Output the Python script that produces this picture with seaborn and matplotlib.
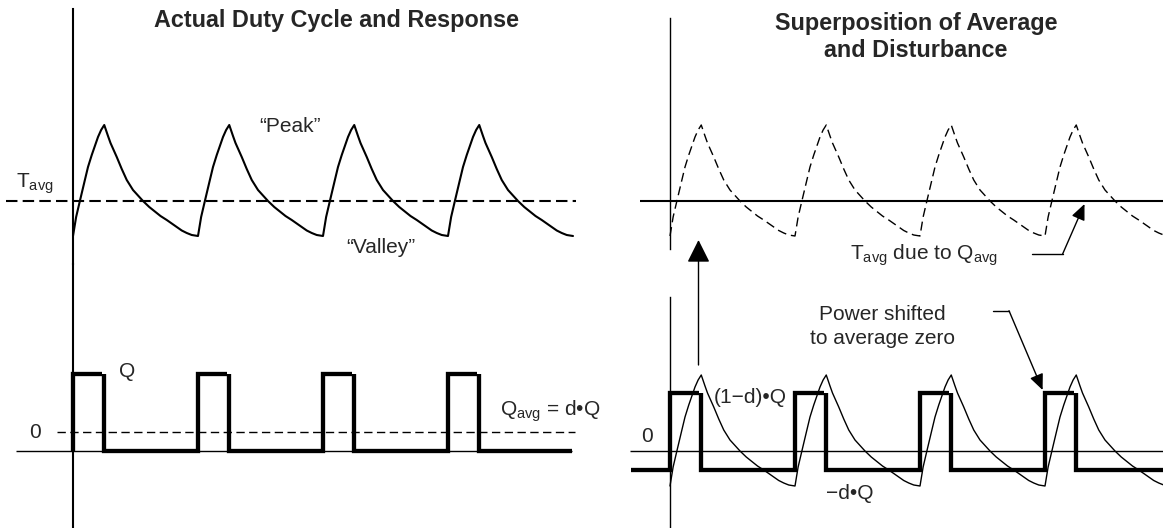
"""占空比与温度响应示意图"""
import pandas as pd
import matplotlib
matplotlib.use('Agg')
import matplotlib.pyplot as plt
import seaborn as sns

# ---- 数据（时间以周期为单位） ----
# 一个周期内的温度响应（相对 T_avg）
cycle_t = [0.0, 0.025, 0.055, 0.095, 0.12, 0.15, 0.20, 0.225, 0.25, 0.28, 0.30, 0.35, 0.39,
           0.43, 0.48, 0.56, 0.61, 0.66, 0.70, 0.75, 0.83, 0.87, 0.91, 0.95, 1.0]
cycle_temp = [-3.5, -1.6, 0.0, 2.1, 3.4, 4.6, 6.4, 7.1, 7.6, 6.5, 5.8, 4.4, 3.2,
              2.1, 1.1, 0.0, -0.6, -1.1, -1.5, -1.9, -2.6, -2.95, -3.2, -3.4, -3.5]
cycle_starts = [0, 1, 2, 3]      # 每个脉冲的上升沿
duty = 0.25                      # d
bar_end = 0.23                   # 顶边在下降沿前略微断开
q_full = 1.0                     # Q

sns.set_style('white')
plt.rcParams['font.family'] = ['Liberation Sans', 'DejaVu Sans']
plt.rcParams['mathtext.fontset'] = 'custom'
plt.rcParams['mathtext.rm'] = 'Liberation Sans'
plt.rcParams['mathtext.it'] = 'Liberation Sans:italic'
plt.rcParams['mathtext.bf'] = 'Liberation Sans:bold'
plt.rcParams['mathtext.default'] = 'regular'

FS = 15
K = 'black'


def response_df(starts):
    rows = []
    for s in starts:
        for t, v in zip(cycle_t, cycle_temp):
            rows.append({'t': s + t, 'temp': v})
    return pd.DataFrame(rows)


def pulse_df(rises, on, off, t_start, t_stop):
    # 方波分段：上升沿+顶边一段，下降沿+底边+下一个上升沿一段
    segs = []
    first = [(rises[0], off), (rises[0], on), (rises[0] + bar_end, on)]
    if t_start < rises[0]:
        first = [(t_start, off)] + first
    segs.append(first)
    for k, r in enumerate(rises):
        fall = r + duty
        if k + 1 < len(rises):
            nxt = rises[k + 1]
            segs.append([(fall, on), (fall, off), (nxt, off), (nxt, on), (nxt + bar_end, on)])
        else:
            segs.append([(fall, on), (fall, off), (t_stop, off)])
    rows = []
    for i, seg in enumerate(segs):
        for t, q in seg:
            rows.append({'t': t, 'q': q, 'seg': i})
    return pd.DataFrame(rows)


def clean(ax, xlim, ylim, bounds, lw):
    ax.set_xlim(*xlim)
    ax.set_ylim(*ylim)
    ax.set_xticks([])
    ax.set_yticks([])
    ax.set_xlabel('')
    ax.set_ylabel('')
    ax.patch.set_alpha(0)
    for sp in ax.spines.values():
        sp.set_visible(False)
    if bounds is not None:
        ax.spines['left'].set_visible(True)
        ax.spines['left'].set_position(('data', 0))
        ax.spines['left'].set_bounds(*bounds)
        ax.spines['left'].set_linewidth(lw)
        ax.spines['left'].set_color(K)


fig = plt.figure(figsize=(11.63, 5.28), dpi=100)
xl = 582 / 1163
ax_lt = fig.add_axes([0, 0.5, xl, 0.5])
ax_lb = fig.add_axes([0, 0, xl, 0.5])
ax_rt = fig.add_axes([xl, 0.5, 1 - xl, 0.5])
ax_rb = fig.add_axes([xl, 0, 1 - xl, 0.5])
ax_rb_t = ax_rb.twinx()

resp = response_df(cycle_starts)
pulse_left = pulse_df(cycle_starts, q_full, 0.0, 0.0, 3.99)
pulse_right = pulse_df(cycle_starts, (1 - duty) * q_full, -duty * q_full, -0.31, 4.0)

# ---- 左：实际占空比与响应 ----
sns.lineplot(data=resp, x='t', y='temp', sort=False, color=K, lw=1.5, ax=ax_lt, legend=False)
ax_lt.hlines(0, -0.536, 4.02, color=K, lw=1.5, linestyles=(0, (5.5, 2.5)))
clean(ax_lt, (-0.584, 4.072), (-6.3, 20.1), (-6.3, 19.2), 1.5)
ax_lt.text(-0.456, 1.3, r'T$_{avg}$', fontsize=FS, ha='left', va='baseline')
ax_lt.text(1.74, 7.5, '\u201cPeak\u201d', fontsize=FS, ha='center', va='center')
ax_lt.text(2.46, -4.65, '\u201cValley\u201d', fontsize=FS, ha='center', va='center')

ax_lb.hlines(0, -0.456, 3.99, color=K, lw=1.0)
ax_lb.hlines(duty * q_full, -0.13, 4.016, color=K, lw=1.0, linestyles=(0, (6, 3.2)))
sns.lineplot(data=pulse_left, x='t', y='q', units='seg', estimator=None, sort=False,
             color=K, lw=3.1, ax=ax_lb, legend=False,
             solid_capstyle='butt', solid_joinstyle='miter')
clean(ax_lb, (-0.584, 4.072), (-1.0, 2.4286), (-1.0, 2.43), 1.5)
ax_lb.text(0.43, 1.026, 'Q', fontsize=FS, ha='center', va='center')
ax_lb.text(-0.304, 0.234, '0', fontsize=FS, ha='center', va='center')
ax_lb.text(3.416, 0.51, 'Q$_{avg}$ = d\u2022Q', fontsize=FS, ha='left', va='center')

# ---- 右：平均值与扰动叠加 ----
sns.lineplot(data=resp, x='t', y='temp', sort=False, color=K, lw=1.0, ax=ax_rt, legend=False,
             linestyle=(0, (6.5, 3.5)))
ax_rt.hlines(0, -0.24, 4.0, color=K, lw=1.5)
clean(ax_rt, (-0.704, 3.944), (-6.3, 20.1), (-4.8, 18.3), 1.0)
ax_rt.text(1.44, -5.4, r'T$_{avg}$ due to Q$_{avg}$', fontsize=FS, ha='left', va='center')
ax_rt.plot([2.893, 3.141], [-5.3, -5.3], color=K, lw=1.0)
ax_rt.annotate('', xy=(3.316, -0.3), xytext=(3.141, -5.3),
               arrowprops=dict(arrowstyle='-|>,head_length=0.8,head_width=0.35', color=K, lw=1.0,
                               shrinkA=0, shrinkB=0, mutation_scale=12))
ax_rt.annotate('', xy=(0.228, -3.9), xytext=(0.228, -16.4), annotation_clip=False,
               arrowprops=dict(arrowstyle='-|>,head_length=0.7,head_width=0.35', color=K, lw=1.0,
                               shrinkA=0, shrinkB=0, mutation_scale=20))

ax_rb.hlines(0, -0.32, 4.0, color=K, lw=1.0)
sns.lineplot(data=pulse_right, x='t', y='q', units='seg', estimator=None, sort=False,
             color=K, lw=3.1, ax=ax_rb, legend=False,
             solid_capstyle='butt', solid_joinstyle='miter')
clean(ax_rb, (-0.704, 3.944), (-1.0, 2.4286), (-1.0, 2.0), 1.0)
sns.lineplot(data=resp, x='t', y='temp', sort=False, color=K, lw=1.0, ax=ax_rb_t, legend=False)
clean(ax_rb_t, (-0.704, 3.944), (-7.7, 18.7), None, 1.0)
ax_rb.text(-0.187, 0.186, '0', fontsize=FS, ha='center', va='center')
ax_rb.text(0.352, 0.70, '(1\u2212d)\u2022Q', fontsize=FS, ha='left', va='center')
ax_rb.text(1.44, -0.55, '\u2212d\u2022Q', fontsize=FS, ha='center', va='center')
ax_rb.text(1.696, 1.617, 'Power shifted\nto average zero', fontsize=FS, ha='center', va='center',
           linespacing=1.3)
ax_rb.plot([2.586, 2.712], [1.822, 1.822], color=K, lw=1.0)
ax_rb.annotate('', xy=(2.981, 0.792), xytext=(2.712, 1.822),
               arrowprops=dict(arrowstyle='-|>,head_length=0.8,head_width=0.35', color=K, lw=1.0,
                               shrinkA=0, shrinkB=0, mutation_scale=12))

# ---- 标题 ----
fig.text(336 / 1163, 1 - 20 / 528, 'Actual Duty Cycle and Response', fontsize=16.8,
         fontweight='bold', ha='center', va='center')
fig.text(916 / 1163, 1 - 37 / 528, 'Superposition of Average\nand Disturbance', fontsize=16.8,
         fontweight='bold', ha='center', va='center', linespacing=1.25)

fig.savefig('out.png', dpi=100)
